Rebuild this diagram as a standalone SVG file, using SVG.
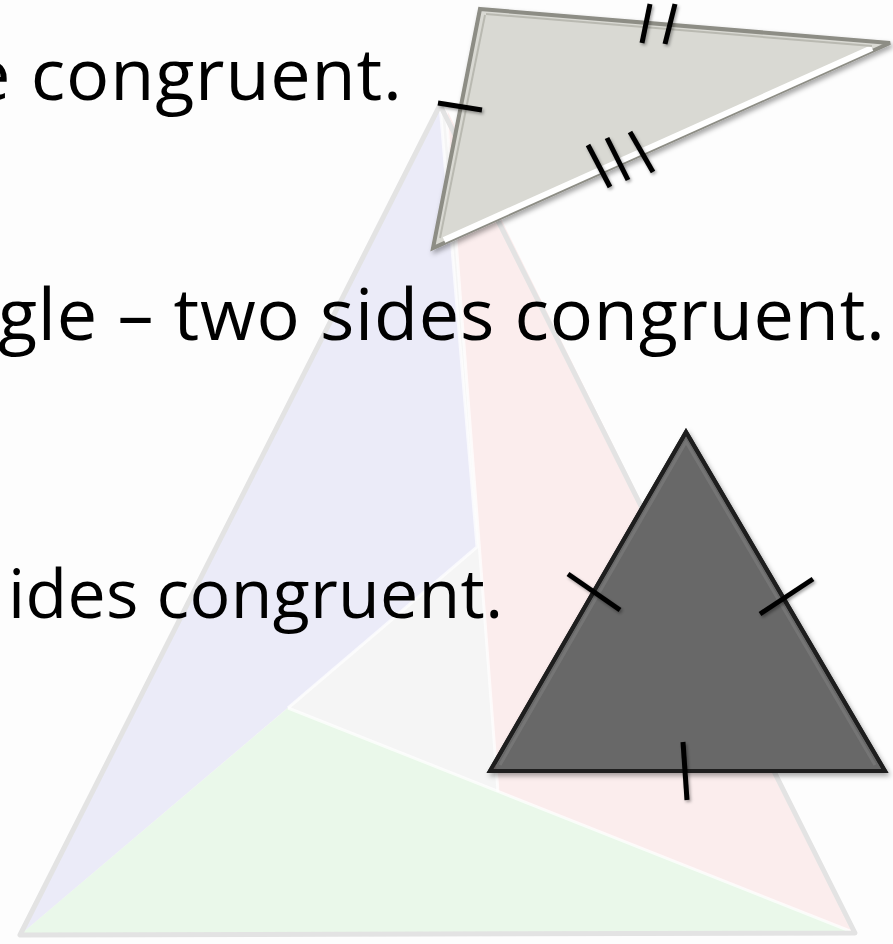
<svg xmlns="http://www.w3.org/2000/svg" width="893" height="944" viewBox="0 0 893 944">
  <defs>
    <style>
      .txt { font-family: "Open Sans", "Liberation Sans", sans-serif; font-size: 72px; fill: #000; }
      .tick { stroke: #000; stroke-width: 5; stroke-linecap: butt; fill: none; }
      .soft { stroke: #ffffff; stroke-opacity: 0.7; stroke-width: 3; fill: none; stroke-linejoin: round; }
    </style>
    <filter id="shadow" x="-10%" y="-10%" width="130%" height="130%">
      <feDropShadow dx="2" dy="3" stdDeviation="2.5" flood-color="#000" flood-opacity="0.35"/>
    </filter>
    <filter id="tshadow" x="-50%" y="-50%" width="200%" height="200%">
      <feDropShadow dx="1.5" dy="2" stdDeviation="1.5" flood-color="#000" flood-opacity="0.35"/>
    </filter>
    <clipPath id="redclip">
      <polygon points="446,108 498,792 855,933 300,933"/>
    </clipPath>
  </defs>

  <rect width="893" height="944" fill="#fdfdfd"/>

  <g id="background-triangle">
    <polygon points="440,105 20,935 855,933" fill="#f5f5f5"/>
    <polygon id="blue" points="440,105 20,935 477,547" fill="#ebebf8"/>
    <polygon id="red" points="446,108 498,792 855,933" fill="#fbeded"/>
    <polygon id="green" points="288,708 20,935 855,933" fill="#eaf8ea"/>
    <polyline class="soft" points="440,105 477,547 288,708"/>
    <polyline class="soft" points="446,108 498,792"/>
    <polyline class="soft" points="288,708 855,933"/>
    <polygon points="440,105 20,935 855,933" fill="none" stroke="#e3e3e3" stroke-width="5" stroke-linejoin="round"/>
  </g>

  <g id="text">
    <text class="txt" x="-30" y="100" textLength="432">e congruent.</text>
    <text class="txt" x="-2" y="340" textLength="887">gle – two sides congruent.</text>
    <text class="txt" x="8" y="618" style="font-size:68px" textLength="495">ides congruent.</text>
  </g>

  <g id="scalene">
    <polygon points="480,9 890,43 433,248" fill="#d9d9d3" stroke="#8d8d85" stroke-width="4" stroke-linejoin="miter" filter="url(#shadow)"/>
    <line x1="444" y1="240" x2="872" y2="48" stroke="#ffffff" stroke-width="6"/>
    <line x1="486" y1="14" x2="872" y2="46" stroke="#b9b9b1" stroke-width="2"/>
    <line x1="485" y1="15" x2="440" y2="238" stroke="#b9b9b1" stroke-width="2"/>
    <g filter="url(#tshadow)">
      <line class="tick" x1="438" y1="103" x2="482" y2="110"/>
      <line class="tick" x1="642" y1="43" x2="650" y2="4"/>
      <line class="tick" x1="665" y1="44" x2="675" y2="4"/>
      <line class="tick" x1="588" y1="145" x2="610" y2="187"/>
      <line class="tick" x1="607" y1="138" x2="628" y2="180"/>
      <line class="tick" x1="630" y1="132" x2="653" y2="172"/>
    </g>
  </g>

  <g id="equilateral">
    <polygon points="686,432 490,771 885,771" fill="#686868" stroke="#1e1e1e" stroke-width="4" stroke-linejoin="miter" filter="url(#shadow)"/>
    <polygon points="686,432 490,771 885,771" fill="#625d5d" clip-path="url(#redclip)"/>
    <polygon points="686,432 490,771 885,771" fill="none" stroke="#1e1e1e" stroke-width="4" stroke-linejoin="miter"/>
    <polyline points="500,765 686,442 875,765" fill="none" stroke="#7e7e7e" stroke-opacity="0.6" stroke-width="3"/>
    <g filter="url(#tshadow)">
      <line class="tick" x1="568" y1="574" x2="620" y2="610"/>
      <line class="tick" x1="813" y1="579" x2="760" y2="614"/>
      <line class="tick" x1="683" y1="742" x2="687" y2="800"/>
    </g>
  </g>
</svg>
